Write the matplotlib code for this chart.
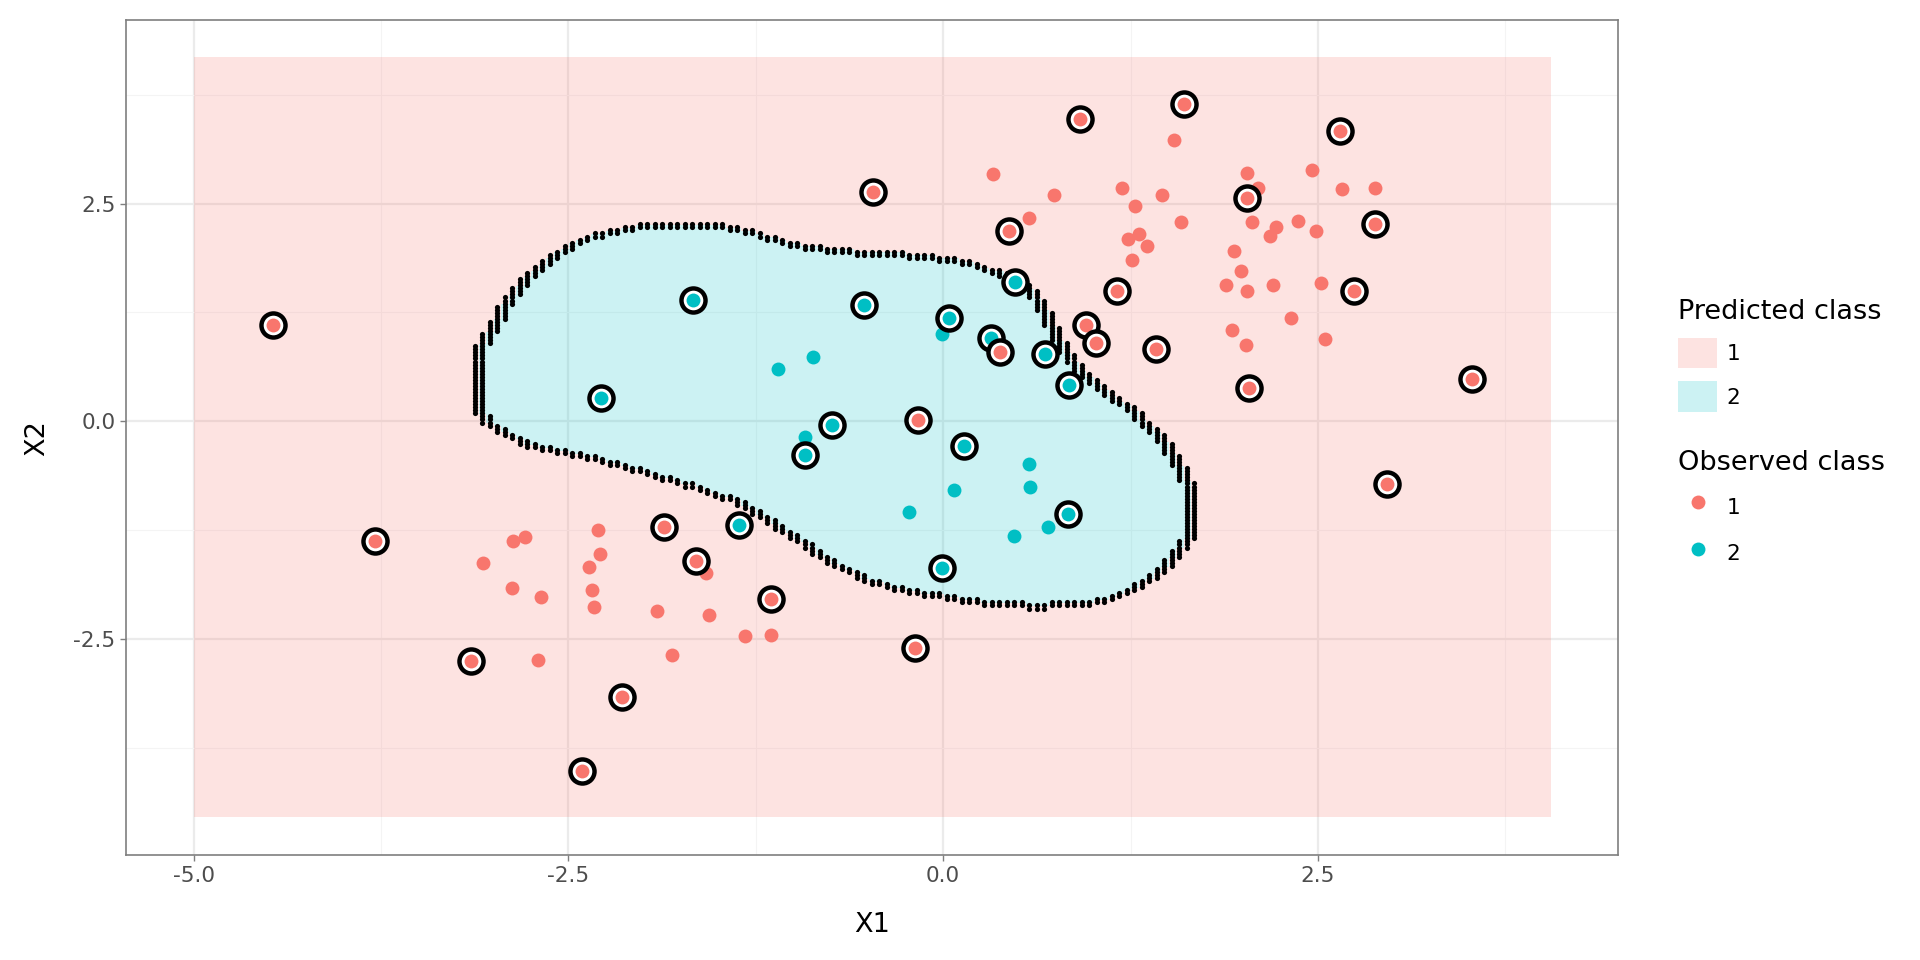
import matplotlib
matplotlib.use("Agg")
import matplotlib.pyplot as plt
import numpy as np
from matplotlib.path import Path
from matplotlib.patches import Patch
from matplotlib.lines import Line2D
from matplotlib.colors import to_rgb

# observed points that are not support vectors
obs1_x = [0.33, 0.57, 0.74, 1.19, 1.28, 1.23, 1.31, 1.36, 1.26, 1.46, 1.54, 1.59,
          2.03, 2.10, 1.94, 1.99, 2.06, 2.03, 1.89, 1.93, 2.02, 2.18, 2.22, 2.37,
          2.20, 2.32, 2.46, 2.49, 2.52, 2.55, 2.66, 2.88,
          -3.07, -2.87, -2.79, -2.88, -2.68, -2.70, -2.30, -2.29, -2.36, -2.34,
          -2.33, -1.91, -1.81, -1.56, -1.58, -1.32, -1.15]
obs1_y = [2.84, 2.33, 2.60, 2.68, 2.47, 2.09, 2.15, 2.01, 1.85, 2.60, 3.23, 2.29,
          2.85, 2.68, 1.95, 1.73, 2.29, 1.50, 1.56, 1.05, 0.88, 2.13, 2.23, 2.30,
          1.56, 1.18, 2.89, 2.18, 1.59, 0.94, 2.67, 2.68,
          -1.63, -1.38, -1.33, -1.92, -2.02, -2.74, -1.25, -1.52, -1.67, -1.94,
          -2.13, -2.18, -2.68, -2.23, -1.74, -2.47, -2.46]
obs2_x = [-1.10, -0.87, -0.92, -0.01, -0.23, 0.07, 0.57, 0.58, 0.47, 0.70]
obs2_y = [0.60, 0.74, -0.18, 1.00, -1.04, -0.79, -0.49, -0.76, -1.32, -1.22]

# support vectors (circled)
sv2_x = [-1.67, -2.28, -0.53, 0.04, 0.48, 0.32, 0.68, 0.84, -0.74, -0.92, -1.36, 0.14, 0.83, -0.01]
sv2_y = [1.39, 0.27, 1.33, 1.19, 1.60, 0.96, 0.77, 0.42, -0.04, -0.39, -1.19, -0.29, -1.07, -1.69]
sv1_x = [-4.47, -3.79, -3.15, -2.41, -2.14, -1.86, -1.65, -1.15, -0.19, -0.47, -0.17,
         0.44, 0.38, 0.91, 1.61, 0.95, 1.02, 1.16, 1.42, 2.03, 2.04, 2.65, 2.88,
         2.74, 3.53, 2.96]
sv1_y = [1.11, -1.38, -2.75, -4.02, -3.17, -1.22, -1.60, -2.04, -2.60, 2.63, 0.01,
         2.18, 0.80, 3.47, 3.64, 1.10, 0.90, 1.50, 0.83, 2.56, 0.38, 3.33, 2.26,
         1.50, 0.48, -0.72]

# outline of the region predicted as class 2
bnd_x = [-3.10, -3.01, -2.93, -2.77, -2.57, -2.36, -2.12, -1.91, -1.54, -1.38, -1.18,
         -0.97, -0.65, -0.24, 0.01, 0.21, 0.38, 0.54, 0.65, 0.71, 0.78, 0.89, 1.07,
         1.27, 1.44, 1.54, 1.61, 1.66, 1.66, 1.60, 1.50, 1.36, 1.15, 0.91, 0.58,
         0.25, 0.01, -0.24, -0.48, -0.69, -0.85, -1.01, -1.18, -1.38, -1.63, -1.87,
         -2.12, -2.36, -2.57, -2.77, -2.93, -3.06, -3.10]
bnd_y = [0.81, 1.05, 1.31, 1.66, 1.94, 2.11, 2.21, 2.25, 2.25, 2.21, 2.12,
         2.02, 1.95, 1.91, 1.87, 1.80, 1.70, 1.56, 1.38, 1.14, 0.88, 0.63, 0.35,
         0.11, -0.17, -0.41, -0.63, -0.80, -1.25, -1.43, -1.64, -1.84, -2.02, -2.11, -2.12,
         -2.08, -2.02, -1.95, -1.84, -1.67, -1.50, -1.32, -1.12, -0.91, -0.77, -0.65,
         -0.52, -0.42, -0.35, -0.27, -0.13, 0.01, 0.18]

# prediction grid
grid_xlim = (-5.0, 4.05)
grid_ylim = (-4.55, 4.17)
step_x = 0.05
step_y = 0.035

col1 = "#F8766D"
col2 = "#00BFC4"

nx = int(round((grid_xlim[1] - grid_xlim[0]) / step_x))
ny = int(round((grid_ylim[1] - grid_ylim[0]) / step_y))
ex = np.linspace(grid_xlim[0], grid_xlim[1], nx + 1)
ey = np.linspace(grid_ylim[0], grid_ylim[1], ny + 1)
cx = (ex[:-1] + ex[1:]) / 2
cy = (ey[:-1] + ey[1:]) / 2
XX, YY = np.meshgrid(cx, cy)
poly = Path(np.column_stack([bnd_x, bnd_y]))
inside = poly.contains_points(np.column_stack([XX.ravel(), YY.ravel()])).reshape(XX.shape)

img = np.zeros(XX.shape + (4,))
img[~inside, :3] = to_rgb(col1)
img[inside, :3] = to_rgb(col2)
img[..., 3] = 0.2

# grid cells next to a cell of the other class (both sides of the border)
pad = np.pad(inside, 1, mode="edge")
diff = ((pad[:-2, 1:-1] != inside) | (pad[2:, 1:-1] != inside) |
        (pad[1:-1, :-2] != inside) | (pad[1:-1, 2:] != inside))

fig = plt.figure(figsize=(19.2, 9.6), dpi=100)
ax = fig.add_axes([0.0656, 0.109, 0.8427 - 0.0656, 0.979 - 0.109])

ax.imshow(img, origin="lower", extent=(ex[0], ex[-1], ey[0], ey[-1]),
          interpolation="nearest", aspect="auto", zorder=1)
ax.scatter(XX[diff], YY[diff], s=14, c="black", linewidths=0, zorder=2)

ax.scatter(obs1_x, obs1_y, s=100, c=col1, linewidths=0, zorder=3)
ax.scatter(obs2_x, obs2_y, s=100, c=col2, linewidths=0, zorder=3)

z = 4
for xs, ys, col in [(sv2_x, sv2_y, col2), (sv1_x, sv1_y, col1)]:
    for x, y in zip(xs, ys):
        ax.scatter([x], [y], s=300, facecolors="white", edgecolors="black",
                   linewidths=3.2, zorder=z)
        ax.scatter([x], [y], s=100, c=col, linewidths=0, zorder=z + 1)
        z += 2

ax.set_xlim(-5.4525, 4.5025)
ax.set_ylim(-4.986, 4.606)
ax.set_xticks([-5.0, -2.5, 0.0, 2.5])
ax.set_xticklabels(["-5.0", "-2.5", "0.0", "2.5"])
ax.set_yticks([-2.5, 0.0, 2.5])
ax.set_yticklabels(["-2.5", "0.0", "2.5"])
ax.set_xticks([-3.75, -1.25, 1.25, 3.75], minor=True)
ax.set_yticks([-3.75, -1.25, 1.25, 3.75], minor=True)
ax.set_axisbelow(True)
ax.grid(which="major", color="#EBEBEB", linewidth=1.6)
ax.grid(which="minor", color="#F4F4F4", linewidth=0.8)
ax.tick_params(which="major", length=4.5, width=1.0, color="#7F7F7F",
               labelsize=15.6, labelcolor="#4D4D4D", pad=3)
ax.tick_params(which="minor", length=0)
for sp in ax.spines.values():
    sp.set_color("#7F7F7F")
    sp.set_linewidth(1.2)
ax.set_xlabel("X1", fontsize=19.5, labelpad=19)
ax.set_ylabel("X2", fontsize=19.5, labelpad=17)

h1 = [Patch(facecolor=col1, alpha=0.2, edgecolor="none"),
      Patch(facecolor=col2, alpha=0.2, edgecolor="none")]
leg1 = fig.legend(handles=h1, labels=["1", "2"], title="Predicted class",
                  loc="upper left", bbox_to_anchor=(0.874, 0.689), frameon=False,
                  fontsize=15.6, title_fontsize=19.5, handlelength=1.8, handleheight=1.8,
                  handletextpad=0.45, labelspacing=0.6, borderpad=0, borderaxespad=0,
                  alignment="left")
h2 = [Line2D([], [], marker="o", linestyle="none", markersize=10, markerfacecolor=col1,
             markeredgewidth=0),
      Line2D([], [], marker="o", linestyle="none", markersize=10, markerfacecolor=col2,
             markeredgewidth=0)]
leg2 = fig.legend(handles=h2, labels=["1", "2"], title="Observed class",
                  loc="upper left", bbox_to_anchor=(0.874, 0.5315), frameon=False,
                  fontsize=15.6, title_fontsize=19.5, handlelength=1.8, handleheight=1.85,
                  handletextpad=0.45, labelspacing=0.7, borderpad=0, borderaxespad=0,
                  alignment="left")

fig.savefig("out.png", dpi=100)
